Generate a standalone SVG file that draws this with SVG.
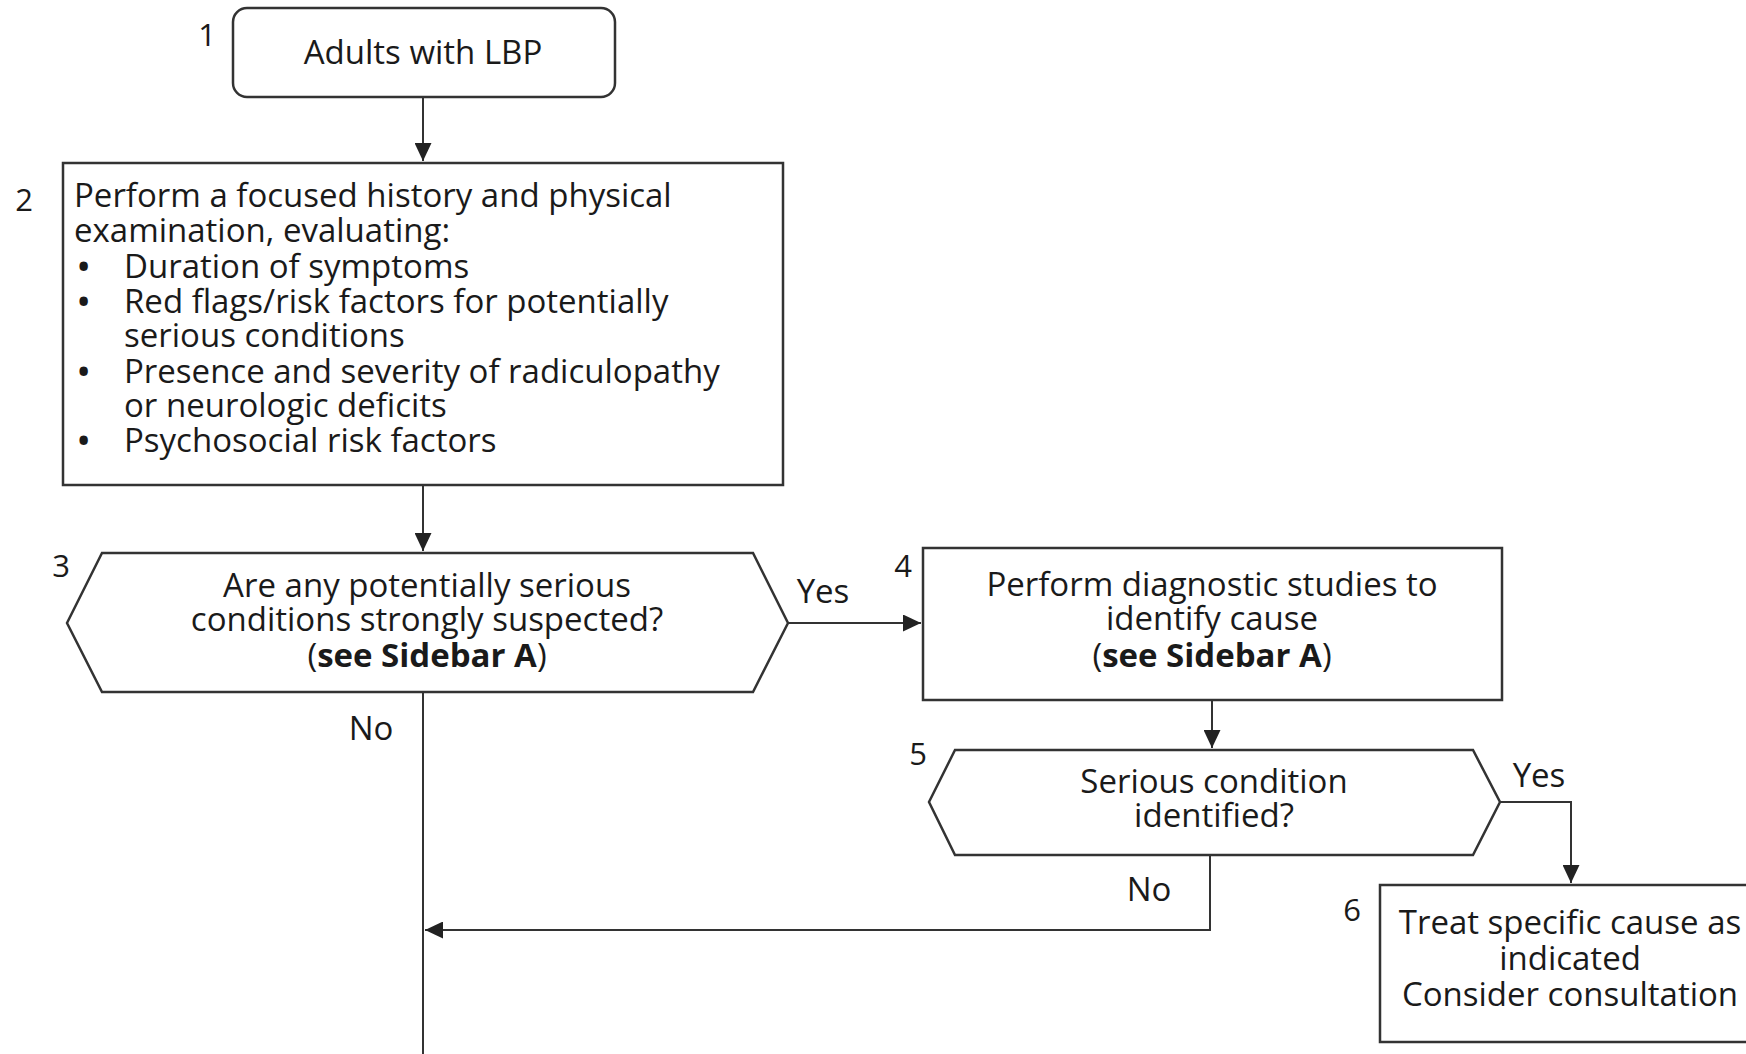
<svg xmlns="http://www.w3.org/2000/svg" width="1746" height="1054" viewBox="0 0 1746 1054">
<style>
.box{fill:#fff;stroke:#333;stroke-width:2.5}
.t{font-family:"Open Sans","Liberation Sans",sans-serif;font-size:33px;fill:#1a1a1a}
.c{text-anchor:middle}
.b{font-weight:bold}
.bul{font-size:30px;font-weight:bold}
.n{font-family:"Open Sans","Liberation Sans",sans-serif;font-size:31px;fill:#1a1a1a;text-anchor:middle}
.conn{fill:none;stroke:#333;stroke-width:2}
</style>
<defs>
<marker id="ah" viewBox="0 0 18 17" markerWidth="18" markerHeight="17" refX="18" refY="8.5" orient="auto" markerUnits="userSpaceOnUse"><path d="M0,0 L18,8.5 L0,17 Z" fill="#222"/></marker>
</defs>
<rect width="1746" height="1054" fill="#fff"/>
<g id="connectors">
<path class="conn" d="M423,97 V161" marker-end="url(#ah)"/>
<path class="conn" d="M423,485 V551" marker-end="url(#ah)"/>
<path class="conn" d="M788,623 H921" marker-end="url(#ah)"/>
<path class="conn" d="M1212,700 V748" marker-end="url(#ah)"/>
<path class="conn" d="M1500,802 H1571 V883" marker-end="url(#ah)"/>
<path class="conn" d="M1210,855 V930 H425" marker-end="url(#ah)"/>
<path class="conn" d="M423,692 V1054"/>
<text class="t c" x="823" y="603">Yes</text>
<text class="t c" x="371" y="740">No</text>
<text class="t c" x="1539" y="787">Yes</text>
<text class="t c" x="1149" y="901">No</text>
</g>
<g id="node1">
<rect class="box" x="233" y="8" width="382" height="89" rx="14"/>
<text class="n" x="207" y="46">1</text>
<text class="t c" x="423" y="64">Adults with LBP</text>
</g>
<g id="node2">
<rect class="box" x="63" y="163" width="720" height="322"/>
<text class="n" x="24" y="211">2</text>
<text class="t"><tspan x="74" y="207">Perform a focused history and physical</tspan><tspan x="74" y="242">examination, evaluating:</tspan><tspan class="bul" x="78" y="277">•</tspan><tspan x="124" y="278">Duration of symptoms</tspan><tspan class="bul" x="78" y="312">•</tspan><tspan x="124" y="313">Red flags/risk factors for potentially</tspan><tspan x="124" y="347">serious conditions</tspan><tspan class="bul" x="78" y="382">•</tspan><tspan x="124" y="383">Presence and severity of radiculopathy</tspan><tspan x="124" y="417">or neurologic deficits</tspan><tspan class="bul" x="78" y="451">•</tspan><tspan x="124" y="452">Psychosocial risk factors</tspan></text>
</g>
<g id="node3">
<polygon class="box" points="67,623 102,553 753,553 788,623 753,692 102,692"/>
<text class="n" x="61" y="577">3</text>
<text class="t c"><tspan x="427" y="597">Are any potentially serious</tspan><tspan x="427" y="631">conditions strongly suspected?</tspan><tspan x="427" y="667">(<tspan class="b">see Sidebar A</tspan>)</tspan></text>
</g>
<g id="node4">
<rect class="box" x="923" y="548" width="579" height="152"/>
<text class="n" x="903" y="577">4</text>
<text class="t c"><tspan x="1212" y="596">Perform diagnostic studies to</tspan><tspan x="1212" y="630">identify cause</tspan><tspan x="1212" y="667">(<tspan class="b">see Sidebar A</tspan>)</tspan></text>
</g>
<g id="node5">
<polygon class="box" points="929,802 955,750 1473,750 1500,802 1473,855 955,855"/>
<text class="n" x="918" y="765">5</text>
<text class="t c"><tspan x="1214" y="793">Serious condition</tspan><tspan x="1214" y="827">identified?</tspan></text>
</g>
<g id="node6">
<rect class="box" x="1380" y="885" width="400" height="157"/>
<text class="n" x="1352" y="921">6</text>
<text class="t c"><tspan x="1570" y="934">Treat specific cause as</tspan><tspan x="1570" y="970">indicated</tspan><tspan x="1570" y="1006">Consider consultation</tspan></text>
</g>
</svg>
